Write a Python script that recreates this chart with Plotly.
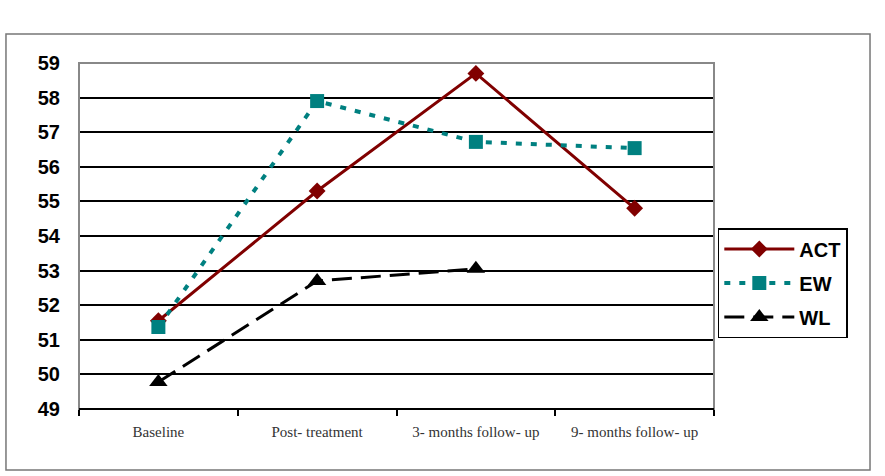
import plotly.graph_objects as go

categories = ["Baseline", "Post- treatment", "3- months follow- up", "9- months follow- up"]
act = [51.55, 55.3, 58.7, 54.8]
ew = [51.37, 57.9, 56.72, 56.54]
wl_categories = ["Baseline", "Post- treatment", "3- months follow- up"]
wl = [49.78, 52.7, 53.05]
y_ticks = list(range(49, 60))

fig = go.Figure()
fig.add_trace(go.Scatter(
    x=categories, y=act, name="ACT", mode="lines+markers", legendgroup="a",
    line=dict(color="#800000", width=3),
    marker=dict(symbol="diamond", size=13, color="#800000"),
))
fig.add_trace(go.Scatter(
    x=categories, y=ew, name="EW", mode="lines+markers", legendgroup="b",
    line=dict(color="#008080", width=4, dash="6px,9px"),
    marker=dict(symbol="square", size=14, color="#008080"),
))
fig.add_trace(go.Scatter(
    x=wl_categories, y=wl, name="WL", mode="lines+markers", legendgroup="c",
    line=dict(color="#000000", width=3, dash="20px,9px"),
    marker=dict(symbol="triangle-up", size=16, color="#000000"),
))

# outer border and plot area border
fig.add_shape(type="rect", xref="paper", yref="paper",
              x0=-0.115, x1=1.2457, y0=-0.1763, y1=1.0838,
              line=dict(color="#777777", width=1.5), layer="below")
fig.add_shape(type="rect", xref="paper", yref="paper",
              x0=0, x1=1, y0=0, y1=1,
              line=dict(color="#888888", width=2), layer="above")
fig.add_shape(type="line", xref="paper", yref="paper",
              x0=0, x1=1, y0=0, y1=0,
              line=dict(color="#000000", width=2), layer="above")

fig.update_layout(
    width=885, height=476,
    margin=dict(l=79, r=171, t=63, b=67),
    paper_bgcolor="white", plot_bgcolor="white",
    showlegend=True,
    legend=dict(
        x=1.006, y=0.523, xanchor="left", yanchor="top",
        bordercolor="#000000", borderwidth=1.5,
        font=dict(family="Liberation Sans, Arial", size=20, color="#000000", weight="bold"),
        itemwidth=70, tracegroupgap=5,
    ),
    xaxis=dict(
        type="category", categoryorder="array", categoryarray=categories,
        range=[-0.5, 3.5], tickson="boundaries", ticks="outside", ticklen=6,
        tickcolor="#000000", tickwidth=2, showgrid=False, showline=False,
        tickfont=dict(family="Liberation Serif, Times New Roman", size=15, color="#333333"),
        ticklabelstandoff=12,
    ),
    yaxis=dict(
        range=[49, 59], tickvals=y_ticks, showgrid=True,
        gridcolor="#000000", gridwidth=1.5, zeroline=False, showline=False,
        ticks="", ticklabelstandoff=18,
        tickfont=dict(family="Liberation Sans, Arial", size=20, color="#000000", weight="bold"),
    ),
)

fig.write_html("out.html")
